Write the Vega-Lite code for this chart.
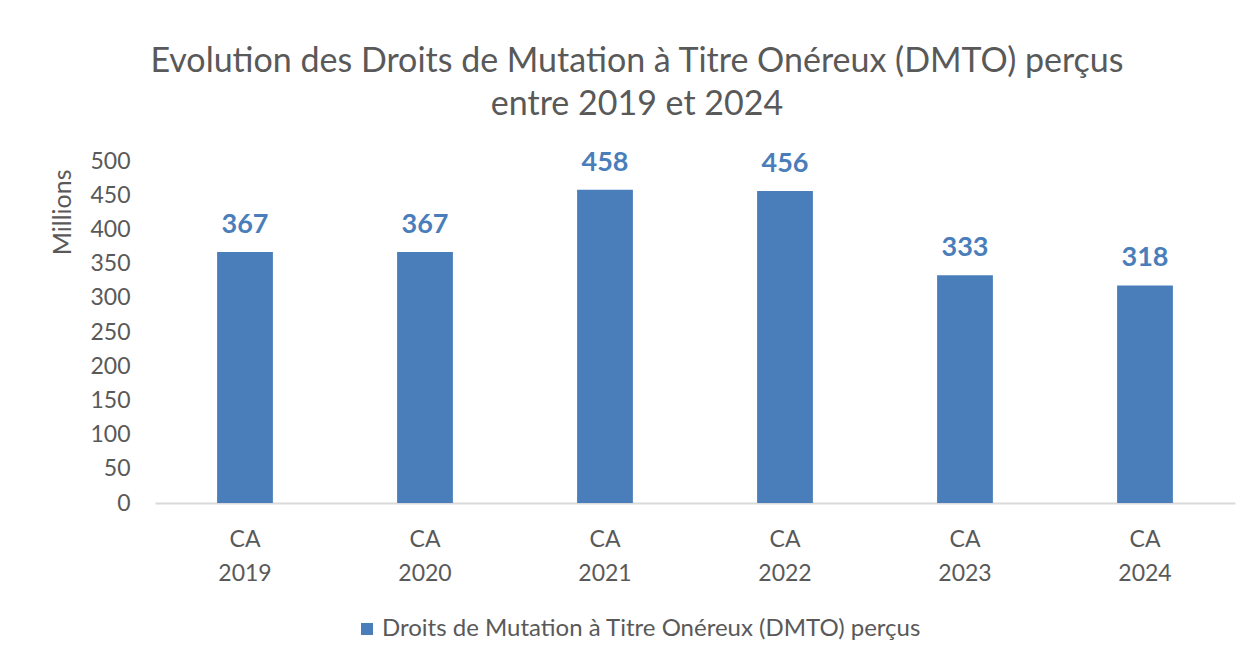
{
  "$schema": "https://vega.github.io/schema/vega-lite/v6.json",
  "width": 1080,
  "height": 342,
  "autosize": {"type": "none"},
  "padding": {"left": 155, "top": 161, "right": 16, "bottom": 157},
  "background": "white",
  "title": {
    "text": ["Evolution des Droits de Mutation à Titre Onéreux (DMTO) perçus", "entre 2019 et 2024"],
    "anchor": "middle",
    "frame": "group",
    "dx": -58,
    "fontSize": 34,
    "font": "Lato",
    "fontWeight": "normal",
    "color": "#595959",
    "lineHeight": 43,
    "offset": 27
  },
  "data": {
    "values": [
      {"annee": "CA 2019", "valeur": 367, "serie": "Droits de Mutation à Titre Onéreux (DMTO) perçus"},
      {"annee": "CA 2020", "valeur": 367, "serie": "Droits de Mutation à Titre Onéreux (DMTO) perçus"},
      {"annee": "CA 2021", "valeur": 458, "serie": "Droits de Mutation à Titre Onéreux (DMTO) perçus"},
      {"annee": "CA 2022", "valeur": 456, "serie": "Droits de Mutation à Titre Onéreux (DMTO) perçus"},
      {"annee": "CA 2023", "valeur": 333, "serie": "Droits de Mutation à Titre Onéreux (DMTO) perçus"},
      {"annee": "CA 2024", "valeur": 318, "serie": "Droits de Mutation à Titre Onéreux (DMTO) perçus"}
    ]
  },
  "encoding": {
    "x": {
      "field": "annee",
      "type": "nominal",
      "sort": null,
      "scale": {"paddingInner": 0.69, "paddingOuter": 0.345},
      "axis": {
        "title": null,
        "labelAngle": 0,
        "labelExpr": "split(datum.label, ' ')",
        "labelFont": "Lato",
        "labelFontSize": 23,
        "labelColor": "#595959",
        "labelLineHeight": 34,
        "labelPadding": 25,
        "ticks": false,
        "domainColor": "#d9d9d9",
        "domainWidth": 2,
        "grid": false
      }
    },
    "y": {
      "field": "valeur",
      "type": "quantitative",
      "scale": {"domain": [0, 500]},
      "axis": {
        "title": "Millions",
        "titleFont": "Lato",
        "titleFontSize": 25,
        "titleFontWeight": "normal",
        "titleColor": "#595959",
        "titleAnchor": "end",
        "titleAngle": -90,
        "titleBaseline": "bottom",
        "titleX": -80,
        "titleY": 8,
        "titleAlign": "right",
        "values": [0, 50, 100, 150, 200, 250, 300, 350, 400, 450, 500],
        "labelFont": "Lato",
        "labelFontSize": 23,
        "labelColor": "#595959",
        "labelPadding": 25,
        "ticks": false,
        "domain": false,
        "grid": false
      }
    }
  },
  "layer": [
    {
      "mark": {"type": "bar", "color": "#4a7ebb"},
      "encoding": {
        "color": {
          "field": "serie",
          "type": "nominal",
          "scale": {"range": ["#4a7ebb"]},
          "legend": {
            "title": null,
            "orient": "none",
            "legendX": 200,
            "legendY": 456,
            "symbolType": "square",
            "symbolSize": 144,
            "symbolStrokeWidth": 0,
            "labelFont": "Lato",
            "labelFontSize": 24,
            "labelColor": "#595959",
            "labelLimit": 800,
            "labelOffset": 3
          }
        }
      }
    },
    {
      "mark": {"type": "text", "baseline": "alphabetic", "dy": -19, "font": "Lato", "fontSize": 27, "fontWeight": "bold", "color": "#4a7ebb"},
      "encoding": {"text": {"field": "valeur", "type": "quantitative"}}
    }
  ],
  "config": {"view": {"stroke": null}}
}
